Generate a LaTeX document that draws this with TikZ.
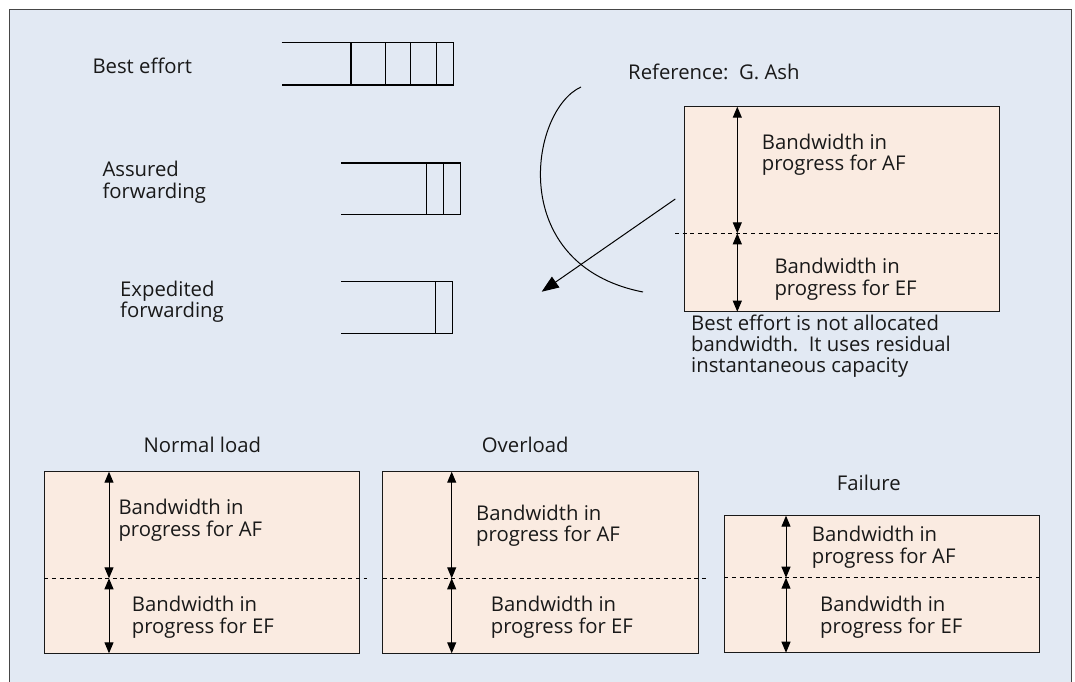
\documentclass[tikz,border=0pt]{standalone}
\usepackage{fontspec}
\setmainfont{Open Sans}
\usetikzlibrary{arrows.meta}

\definecolor{bgblue}{RGB}{226,233,243}
\definecolor{boxfill}{RGB}{250,235,225}
\definecolor{framegray}{RGB}{70,70,70}
\definecolor{inkdark}{RGB}{25,25,25}

\tikzset{
  lbl/.style={font=\fontsize{20.3}{22}\selectfont, text=inkdark, inner sep=0pt, anchor=base west},
  frame/.style={draw=framegray, line width=0.9pt, fill=bgblue},
  queue/.style={draw=black, line width=1.1pt},
  bwbox/.style={draw=inkdark, line width=1pt, fill=boxfill, rectangle, inner sep=0pt, outer sep=0pt, anchor=north west},
  dashline/.style={draw=black, line width=0.8pt, dash pattern=on 4pt off 3.6pt},
  bwarrow/.style={draw=black, line width=1pt, {Triangle[length=11pt,width=9pt]}-{Triangle[length=11pt,width=9pt]}},
  bigarrow/.style={draw=black, line width=1pt, -{Triangle[length=17pt,width=13pt]}},
  sweep/.style={draw=black, line width=1pt}
}

\begin{document}
\begin{tikzpicture}[x=1pt, y=-1pt]
\useasboundingbox (0,0) rectangle (1075,681);

% outer panel, its lower edge runs off the page
\begin{scope}
  \clip (0,0) rectangle (1075,681);
  \draw[frame] (9,9) rectangle (1071,700);
\end{scope}

% ---- queues -------------------------------------------------------
\draw[queue] (281.7,42.3) -- (453.7,42.3) -- (453.7,85) -- (281.7,85);
\foreach \x in {351,385.7,410.7,436.3} \draw[queue] (\x,42.3) -- (\x,85);

\draw[queue] (341,163) -- (460.7,163) -- (460.7,214.3) -- (341,214.3);
\foreach \x in {426.7,443.7} \draw[queue] (\x,163) -- (\x,214.3);

\draw[queue] (341,281.7) -- (452.7,281.7) -- (452.7,333.3) -- (341,333.3);
\draw[queue] (435.7,281.7) -- (435.7,333.3);

\node[lbl] (lbe)  at (92.3,73.3)  {Best effort};
\node[lbl] (laf1) at (102.3,176.7) {Assured};
\node[lbl] (laf2) at (102.3,198.3) {forwarding};
\node[lbl] (lef1) at (120,296.7)  {Expedited};
\node[lbl] (lef2) at (120,317.3)  {forwarding};

\node[lbl] (ref) at (628,79.5) {Reference:\ \ G. Ash};

% ---- sweep and pointer --------------------------------------------
\coordinate (swA) at (581,87);
\coordinate (swB) at (643,292);
\draw[sweep] (swA) .. controls (530,110) and (505,265) .. (swB);

\coordinate (ptFrom) at (675.3,199);
\coordinate (ptTo) at (541.7,291.7);
\draw[bigarrow] (ptFrom) -- (ptTo);

% ---- reference bandwidth box ----------------------------------------
\node[bwbox, minimum width=315.4pt, minimum height=205pt] (tr) at (684.3,106.7) {};
\coordinate (trmid) at (737.3,233.3);
\draw[dashline] (675,233.3) -- (tr.east |- trmid);
\draw[bwarrow] (tr.north -| trmid) -- (trmid);
\draw[bwarrow] (trmid) -- (tr.south -| trmid);
\node[lbl] (traf1) at (761.7,149.3) {Bandwidth in};
\node[lbl] (traf2) at (761.7,170.5) {progress for AF};
\node[lbl] (tref1) at (774.3,273.3) {Bandwidth in};
\node[lbl] (tref2) at (774.3,295)   {progress for EF};

\node[lbl] (note1) at (691,330.5) {Best effort is not allocated};
\node[lbl] (note2) at (691,351.5) {bandwidth.\ \ It uses residual};
\node[lbl] (note3) at (691,372.5) {instantaneous capacity};

% ---- normal load ----------------------------------------------------
\node[lbl] (tnl) at (143.3,452.3) {Normal load};
\node[bwbox, minimum width=315.4pt, minimum height=181.6pt] (nl) at (44.3,471.7) {};
\coordinate (nlmid) at (109,578.3);
\draw[dashline] (nl.west |- nlmid) -- (366.7,578.3);
\draw[bwarrow] (nl.north -| nlmid) -- (nlmid);
\draw[bwarrow] (nlmid) -- (nl.south -| nlmid);
\node[lbl] (nlaf1) at (118.3,514)   {Bandwidth in};
\node[lbl] (nlaf2) at (118.3,536)   {progress for AF};
\node[lbl] (nlef1) at (131.7,611)   {Bandwidth in};
\node[lbl] (nlef2) at (131.7,633.5) {progress for EF};

% ---- overload -------------------------------------------------------
\node[lbl] (tol) at (481.7,452.3) {Overload};
\node[bwbox, minimum width=315.6pt, minimum height=181.6pt] (ol) at (382.7,471.7) {};
\coordinate (olmid) at (451.7,578.3);
\draw[dashline] (ol.west |- olmid) -- (707.3,578.3);
\draw[bwarrow] (ol.north -| olmid) -- (olmid);
\draw[bwarrow] (olmid) -- (ol.south -| olmid);
\node[lbl] (olaf1) at (476,520)     {Bandwidth in};
\node[lbl] (olaf2) at (476,541.7)   {progress for AF};
\node[lbl] (olef1) at (490.7,611.7) {Bandwidth in};
\node[lbl] (olef2) at (490.7,633.3) {progress for EF};

% ---- failure --------------------------------------------------------
\node[lbl] (tfl) at (836.7,490) {Failure};
\node[bwbox, minimum width=315pt, minimum height=137pt] (fl) at (724.3,515.7) {};
\coordinate (flmid) at (786,577.7);
\draw[dashline] (fl.west |- flmid) -- (fl.east |- flmid);
\draw[bwarrow] (fl.north -| flmid) -- (flmid);
\draw[bwarrow] (flmid) -- (fl.south -| flmid);
\node[lbl] (flaf1) at (811.7,541)   {Bandwidth in};
\node[lbl] (flaf2) at (811.7,563.5) {progress for AF};
\node[lbl] (flef1) at (820,611.7)   {Bandwidth in};
\node[lbl] (flef2) at (820,633.3)   {progress for EF};
\end{tikzpicture}
\end{document}
